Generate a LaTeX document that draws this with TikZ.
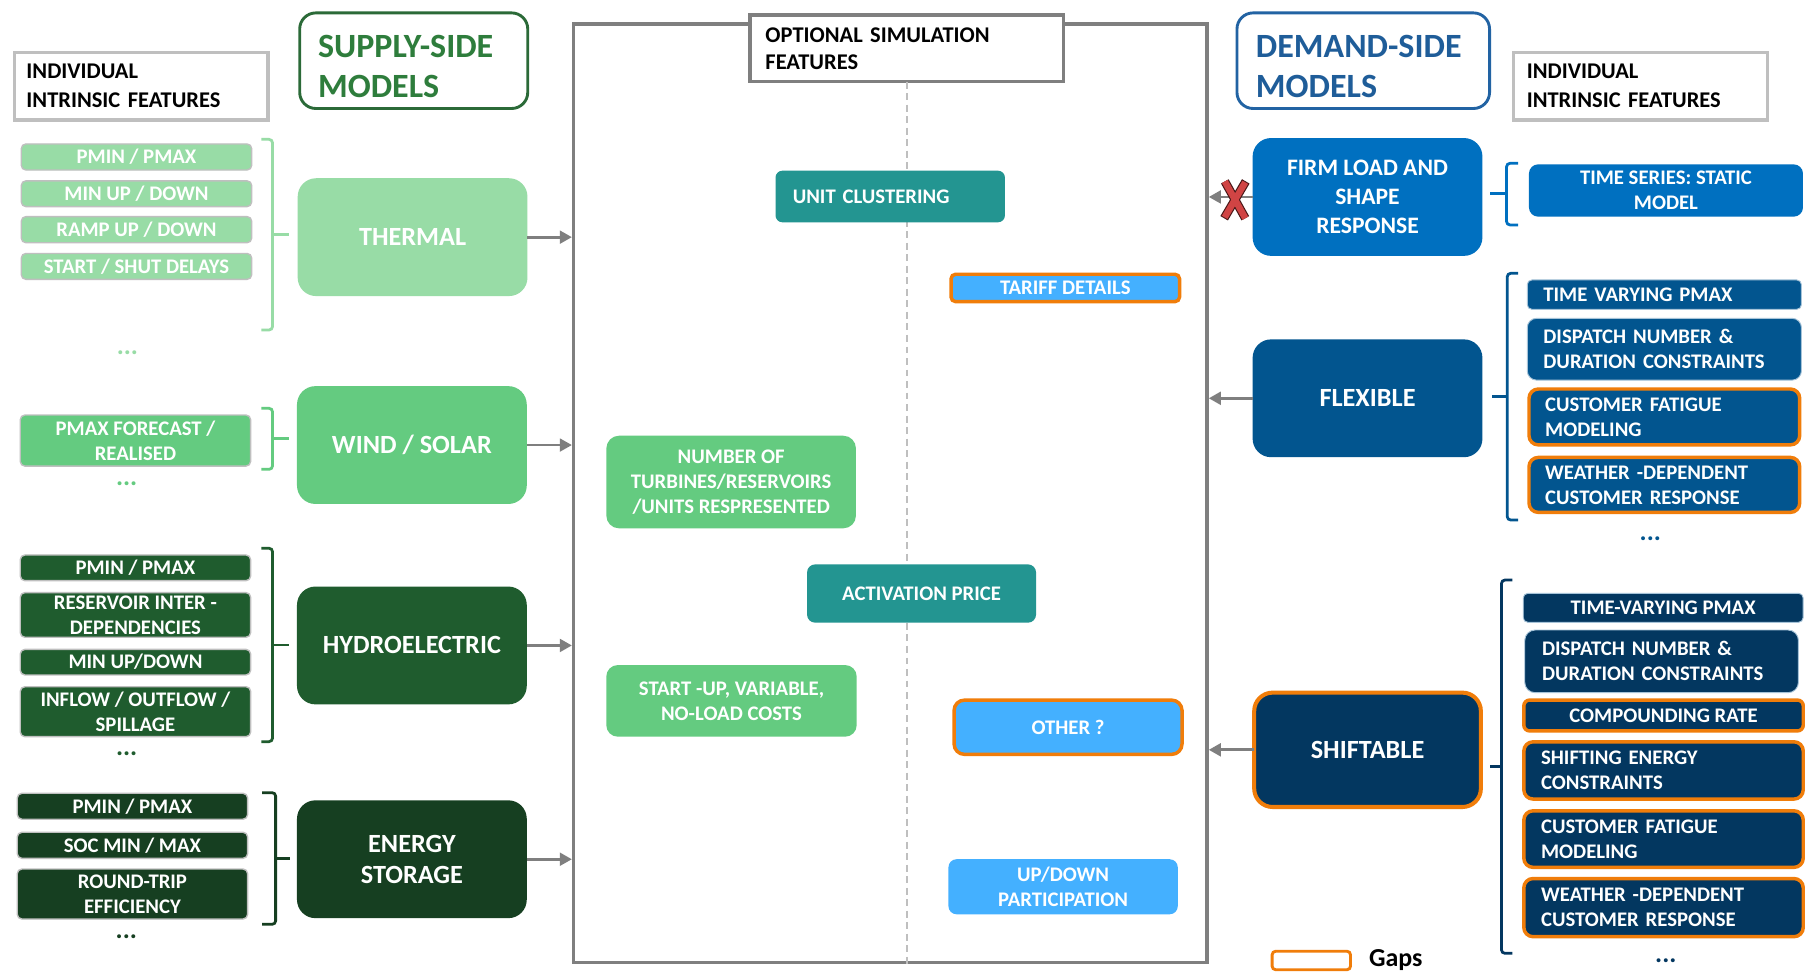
\documentclass[tikz,border=0pt]{standalone}
\usepackage{fontspec}
\setmainfont{Carlito}
\usetikzlibrary{arrows.meta}

\definecolor{thermalc}{HTML}{98DCA6}
\definecolor{windc}{HTML}{64CB80}
\definecolor{hydroc}{HTML}{1F5C2E}
\definecolor{storec}{HTML}{163F21}
\definecolor{tealc}{HTML}{239591}
\definecolor{skyc}{HTML}{44B0FF}
\definecolor{firmc}{HTML}{0070C0}
\definecolor{flexc}{HTML}{02558F}
\definecolor{shiftc}{HTML}{033760}
\definecolor{gapc}{HTML}{F07D0A}
\definecolor{framec}{HTML}{7F7F7F}
\definecolor{headc}{HTML}{BFBFBF}
\definecolor{supplyc}{HTML}{2E7D3C}
\definecolor{supplybord}{HTML}{2B6A38}
\definecolor{demandc}{HTML}{1F5D99}
\definecolor{demandbord}{HTML}{2263A3}
\definecolor{crossc}{HTML}{D04444}

\tikzset{
  box/.style={inner sep=0pt, outer sep=0pt, text=white,
    font=\bfseries\fontsize{18}{21.7}\selectfont},
  feat/.style={box, rounded corners=4pt, draw=headc, line width=1.2pt,
    align=center, minimum width=200pt},
  dfeat/.style={box, draw=white!65!flexc, line width=0.8pt},
  gapline/.style={draw=gapc, line width=3pt},
  opt/.style={box, align=center},
  model/.style={box, rounded corners=16pt, align=center,
    font=\bfseries\fontsize{22.8}{26.6}\selectfont,
    minimum width=199.5pt, minimum height=102.3pt},
  hdr/.style={box, draw=headc, line width=3pt, fill=white, text=black,
    align=left, font=\bfseries\fontsize{19.5}{25}\selectfont},
  titletxt/.style={box, align=left, font=\bfseries\fontsize{29.5}{34.2}\selectfont},
  arr/.style={draw=framec, line width=2.5pt, -{Triangle[length=10.5pt,width=11pt]}},
  brace/.style={line width=2.4pt, rounded corners=3pt},
  dotsty/.style={box, font=\bfseries\fontsize{23}{24}\selectfont},
}

\begin{document}
\begin{tikzpicture}[x=1pt,y=-1pt]
\fill[white] (0,0) rectangle (1568,845);
\useasboundingbox (0,0) rectangle (1568,845);

% ---------- central frame of optional simulation features ----------
\node[draw=framec, line width=2.9pt, minimum width=550pt, minimum height=814.5pt, inner sep=0pt] (frame) at (773,428.2) {};
\node[hdr, draw=framec, minimum width=272pt, minimum height=57.7pt, text width=245pt, inner xsep=13.5pt,
      font=\bfseries\fontsize{19.5}{23.2}\selectfont] (opt) at (787.1,42) {OPTIONAL SIMULATION\\FEATURES};
\draw[headc, line width=1.6pt, dash pattern=on 6pt off 4pt] (opt.south) -- (opt.south |- frame.south);

\node[opt, fill=tealc, rounded corners=6pt, minimum width=199.2pt, minimum height=44.8pt,
      text width=169.2pt, inner xsep=15pt, align=left] (cluster) at (772.9,170.6) {UNIT CLUSTERING};
\node[opt, fill=skyc, gapline, rounded corners=4pt, minimum width=198.4pt, minimum height=23.8pt] (tariff) at (924.9,250) {TARIFF DETAILS};
\node[opt, fill=windc, rounded corners=11pt, minimum width=216.7pt, minimum height=80.4pt] (turbines) at (634.8,418.5) {NUMBER OF\\TURBINES/RESERVOIRS\\/UNITS RESPRESENTED};
\node[opt, fill=tealc, rounded corners=7pt, minimum width=198.8pt, minimum height=50.6pt] (activation) at (800.1,515.3) {ACTIVATION PRICE};
\node[opt, fill=windc, rounded corners=10pt, minimum width=217.4pt, minimum height=62.2pt] (costs) at (635.1,608.5) {START -UP, VARIABLE,\\NO-LOAD COSTS};
\node[opt, fill=skyc, gapline, rounded corners=9pt, minimum width=197.9pt, minimum height=47.1pt] (other) at (927.3,631.4) {OTHER ?};
\node[opt, fill=skyc, rounded corners=7pt, minimum width=199.1pt, minimum height=47.8pt] (updown) at (923,769.9) {UP/DOWN\\PARTICIPATION};

% ---------- supply side ----------
\node[hdr, minimum width=220pt, minimum height=58.6pt, text width=199pt, inner xsep=10.5pt] (lhead) at (122.5,74.8) {INDIVIDUAL\\INTRINSIC FEATURES};
\node[box, draw=supplybord, line width=2.5pt, fill=white, rounded corners=14pt, minimum width=198pt, minimum height=83pt] (supplybox) at (359.2,52.7) {};
\node[titletxt, text=supplyc, anchor=west] (supplytitle) at ([xshift=16pt,yshift=-4.9pt]supplybox.west) {SUPPLY-SIDE\\MODELS};

\node[model, fill=thermalc] (thermal) at (358.2,205.9) {THERMAL};
\node[model, fill=windc] (wind) at (357.6,386.4) {WIND / SOLAR};
\node[model, fill=hydroc] (hydro) at (357.6,560.4) {HYDROELECTRIC};
\node[model, fill=storec] (storage) at (357.6,746) {ENERGY\\STORAGE};

\node[feat, fill=thermalc, minimum height=22.6pt] (t1) at (118.5,136.3) {PMIN / PMAX};
\node[feat, fill=thermalc, minimum height=22.4pt] (t2) at (118.5,168.2) {MIN UP / DOWN};
\node[feat, fill=thermalc, minimum height=22.7pt] (t3) at (118.5,199.4) {RAMP UP / DOWN};
\node[feat, fill=thermalc, minimum height=22.5pt] (t4) at (118.5,231.3) {START / SHUT DELAYS};
\node[dotsty, text=thermalc] (tdots) at (110.6,306) {...};

\node[feat, fill=windc, minimum height=44.3pt] (w1) at (117.6,382.5) {PMAX FORECAST /\\REALISED};
\node[dotsty, text=windc] (wdots) at (110,420) {...};

\node[feat, fill=hydroc, minimum height=22.3pt] (h1) at (117.6,493) {PMIN / PMAX};
\node[feat, fill=hydroc, minimum height=38.8pt] (h2) at (117.6,533.9) {RESERVOIR INTER -\\DEPENDENCIES};
\node[feat, fill=hydroc, minimum height=22.2pt] (h3) at (117.6,574.9) {MIN UP/DOWN};
\node[feat, fill=hydroc, minimum height=43.4pt] (h4) at (117.6,617.9) {INFLOW / OUTFLOW /\\SPILLAGE};
\node[dotsty, text=hydroc] (hdots) at (110,654) {...};

\node[feat, fill=storec, minimum height=22.5pt] (s1) at (115,700) {PMIN / PMAX};
\node[feat, fill=storec, minimum height=22.6pt] (s2) at (115,733.9) {SOC MIN / MAX};
\node[feat, fill=storec, minimum height=43.4pt] (s3) at (115,776.2) {ROUND-TRIP\\EFFICIENCY};
\node[dotsty, text=storec] (sdots) at (109.7,813.7) {...};

% braces grouping the supply features
\draw[brace, thermalc] (227,121) -- (236.6,121) -- (236.6,286.5) -- (227,286.5);
\draw[brace, thermalc] (236.6,203.5) -- (251,203.5);
\draw[brace, windc] (227,354.5) -- (236.6,354.5) -- (236.6,407.5) -- (227,407.5);
\draw[brace, windc] (236.6,380.6) -- (251,380.6);
\draw[brace, hydroc] (227,476) -- (236.6,476) -- (236.6,643.9) -- (227,643.9);
\draw[brace, hydroc] (236.6,560) -- (251,560);
\draw[brace, storec] (227.6,688.2) -- (239.3,688.2) -- (239.3,802.5) -- (227.6,802.5);
\draw[brace, storec] (239.3,745.2) -- (252,745.2);

\draw[arr] (thermal.east) -- (thermal.east -| frame.west);
\draw[arr] (wind.east) -- (wind.east -| frame.west);
\draw[arr] (hydro.east) -- (hydro.east -| frame.west);
\draw[arr] (storage.east) -- (storage.east -| frame.west);

% ---------- demand side ----------
\node[box, draw=demandbord, line width=2.5pt, fill=white, rounded corners=14pt, minimum width=219.3pt, minimum height=83pt] (demandbox) at (1183.6,52.7) {};
\node[titletxt, text=demandc, anchor=west] (demandtitle) at ([xshift=16.5pt,yshift=-4.9pt]demandbox.west) {DEMAND-SIDE\\MODELS};
\node[hdr, minimum width=220.5pt, minimum height=58.6pt, text width=197pt, inner xsep=11.7pt] (rhead) at (1424.1,74.8) {INDIVIDUAL\\INTRINSIC FEATURES};

\node[model, fill=firmc, font=\bfseries\fontsize{20.5}{25.2}\selectfont] (firm) at (1187.3,171) {FIRM LOAD AND\\SHAPE\\RESPONSE};
\node[model, fill=flexc] (flex) at (1187.3,345.8) {FLEXIBLE};
\node[model, fill=shiftc, gapline, line width=3.5pt, minimum width=196.8pt, minimum height=99.3pt] (shift) at (1187.3,651) {SHIFTABLE};

\node[dfeat, fill=firmc, draw=none, rounded corners=8pt, align=center, minimum width=237.9pt, minimum height=45.4pt] (ts) at (1446.4,165.4) {TIME SERIES: STATIC\\MODEL};

\node[dfeat, fill=flexc, rounded corners=4pt, align=left, text width=210pt, inner xsep=14pt, minimum height=25.5pt] (f1) at (1445,255.8) {TIME VARYING PMAX};
\node[dfeat, fill=flexc, rounded corners=8pt, align=left, text width=210pt, inner xsep=14pt, minimum height=53.6pt] (f2) at (1445,303.2) {DISPATCH NUMBER \&\\DURATION CONSTRAINTS};
\node[dfeat, fill=flexc, gapline, rounded corners=8pt, align=left, text width=207pt, inner xsep=14pt, minimum height=48.5pt] (f3) at (1445,362) {CUSTOMER FATIGUE\\MODELING};
\node[dfeat, fill=flexc, gapline, rounded corners=8pt, align=left, text width=207pt, inner xsep=14pt, minimum height=47.7pt] (f4) at (1445,421) {WEATHER -DEPENDENT\\CUSTOMER RESPONSE};
\node[dotsty, text=flexc] (fdots) at (1432.8,467.8) {...};

\node[dfeat, fill=shiftc, rounded corners=4pt, align=center, minimum width=243pt, minimum height=25.2pt] (sh1) at (1444,527.7) {TIME-VARYING PMAX};
\node[dfeat, fill=shiftc, rounded corners=9pt, align=left, text width=207.6pt, inner xsep=15pt, minimum height=54.4pt] (sh2) at (1442.6,574.2) {DISPATCH NUMBER \&\\DURATION CONSTRAINTS};
\node[dfeat, fill=shiftc, gapline, rounded corners=5pt, align=center, minimum width=242.6pt, minimum height=26.8pt] (sh3) at (1444.3,621.2) {COMPOUNDING RATE};
\node[dfeat, fill=shiftc, gapline, rounded corners=8pt, align=left, text width=212.6pt, inner xsep=15pt, minimum height=49.7pt] (sh4) at (1444.3,668.9) {SHIFTING ENERGY\\CONSTRAINTS};
\node[dfeat, fill=shiftc, gapline, rounded corners=8pt, align=left, text width=212.6pt, inner xsep=15pt, minimum height=49.1pt] (sh5) at (1444.3,728.5) {CUSTOMER FATIGUE\\MODELING};
\node[dfeat, fill=shiftc, gapline, rounded corners=8pt, align=left, text width=212.6pt, inner xsep=15pt, minimum height=50.5pt] (sh6) at (1444.3,788) {WEATHER -DEPENDENT\\CUSTOMER RESPONSE};
\node[dotsty, text=shiftc] (shdots) at (1446.3,834) {...};

% braces grouping the demand features
\draw[brace, firmc] (1318,141.8) -- (1308,141.8) -- (1308,195.3) -- (1318,195.3);
\draw[brace, firmc] (1308,167.8) -- (1293.6,167.8);
\draw[brace, flexc] (1318,237.3) -- (1308.6,237.3) -- (1308.6,451.5) -- (1318,451.5);
\draw[brace, flexc] (1308.6,344.4) -- (1295.2,344.4);
\draw[brace, shiftc] (1313,503.6) -- (1303.6,503.6) -- (1303.6,827.7) -- (1313,827.7);
\draw[brace, shiftc] (1303.6,665.6) -- (1293.6,665.6);

\draw[arr] (firm.west) -- (firm.west -| frame.east);
\draw[arr] (flex.west) -- (flex.west -| frame.east);
\draw[arr] (shift.west) -- (shift.west -| frame.east);

% red cross on the firm load link
\draw[line width=7.6pt, crossc!35!black] (1063.4,157.5) -- (1081.2,189.5) (1081.6,157.5) -- (1062.8,189.5);
\draw[line width=5.6pt, crossc, shorten <=0.9pt, shorten >=0.9pt] (1063.4,157.5) -- (1081.2,189.5) (1081.6,157.5) -- (1062.8,189.5);

% legend
\node[box, draw=gapc, line width=2.5pt, fill=white, rounded corners=3pt, minimum width=68pt, minimum height=16pt] (gapkey) at (1138.5,833.9) {};
\node[box, text=black, anchor=west, font=\bfseries\fontsize{22.5}{26}\selectfont] (gaptext) at (1188.6,833.5) {Gaps};
\end{tikzpicture}
\end{document}
